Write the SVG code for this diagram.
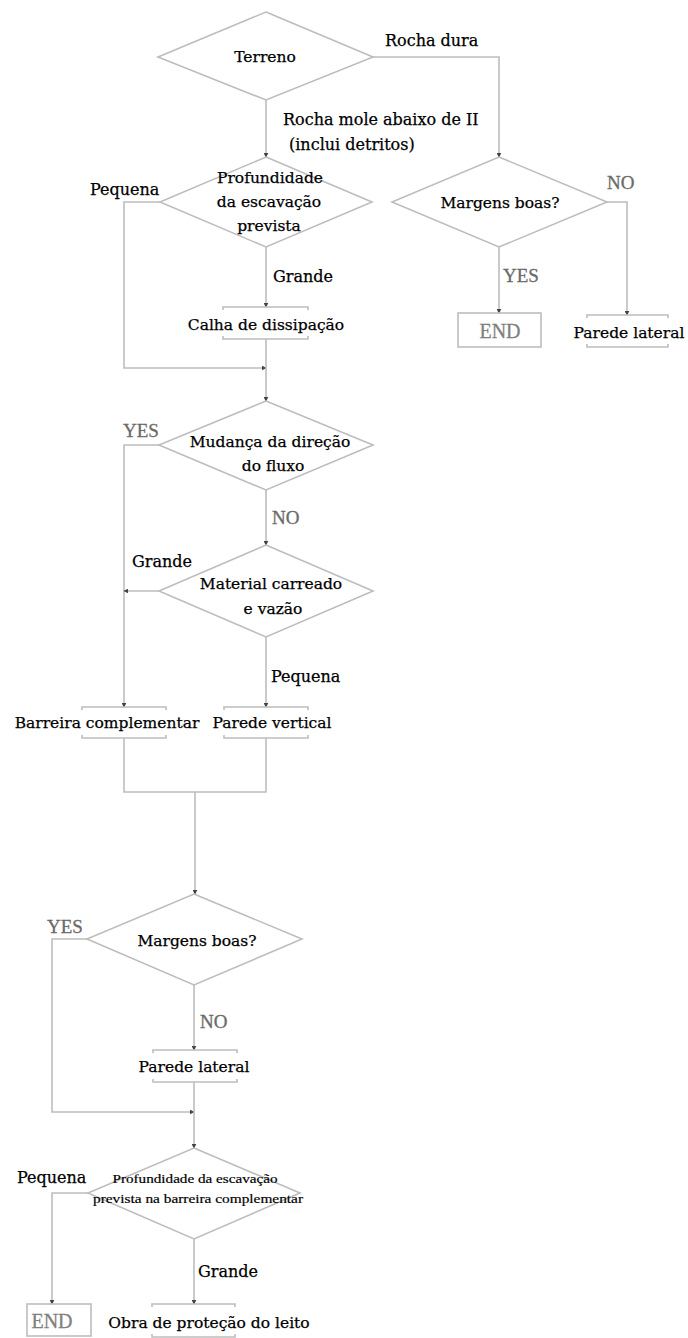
<svg xmlns="http://www.w3.org/2000/svg" width="688" height="1338" viewBox="0 0 688 1338">
<style>
.shape{fill:none;stroke:#bdbdbd;stroke-width:1.6}
.box{fill:none;stroke:#bdbdbd;stroke-width:1.6}
.conn{fill:none;stroke:#bdbdbd;stroke-width:1.6}
.t{font-family:"DejaVu Serif",serif;font-size:15.5px;fill:#000;stroke:#000;stroke-width:0.25}
.lbl{font-family:"DejaVu Serif",serif;font-size:16px;fill:#000;stroke:#000;stroke-width:0.25}
.yn{font-family:"Liberation Serif",serif;font-size:19px;fill:#6a6a6a;stroke:#6a6a6a;stroke-width:0.3}
.end{font-family:"Liberation Serif",serif;font-size:20px;fill:#808080;stroke:#808080;stroke-width:0.3}
.sm{font-family:"Liberation Serif",serif;font-size:13px;fill:#000;stroke:#000;stroke-width:0.2}
</style>
<defs>
<marker id="arr" viewBox="0 0 8 8" refX="7" refY="4" markerWidth="5" markerHeight="5" orient="auto" markerUnits="userSpaceOnUse">
<path d="M0,0 L8,4 L0,8 Z" fill="#444"/>
</marker>
</defs>
<rect width="688" height="1338" fill="#ffffff"/>

<g id="connectors">
<path class="conn" d="M266,100 V157" marker-end="url(#arr)"/>
<path class="conn" d="M373,57 H499 V157" marker-end="url(#arr)"/>
<path class="conn" d="M160,202 H124 V368 H266" marker-end="url(#arr)"/>
<path class="conn" d="M266,247 V307" marker-end="url(#arr)"/>
<path class="conn" d="M266,339 V401" marker-end="url(#arr)"/>
<path class="conn" d="M499,247 V313" marker-end="url(#arr)"/>
<path class="conn" d="M607,202 H627 V315" marker-end="url(#arr)"/>
<path class="conn" d="M159,445 H124 V707" marker-end="url(#arr)"/>
<path class="conn" d="M266,490 V545" marker-end="url(#arr)"/>
<path class="conn" d="M159,591 H124" marker-end="url(#arr)"/>
<path class="conn" d="M266,637 V707" marker-end="url(#arr)"/>
<path class="conn" d="M124,738 V792 H266 V738"/>
<path class="conn" d="M195,792 V894" marker-end="url(#arr)"/>
<path class="conn" d="M87,939 H52 V1112 H194" marker-end="url(#arr)"/>
<path class="conn" d="M194,985 V1050" marker-end="url(#arr)"/>
<path class="conn" d="M194,1082 V1148" marker-end="url(#arr)"/>
<path class="conn" d="M88,1193 H52 V1304" marker-end="url(#arr)"/>
<path class="conn" d="M194,1239 V1304" marker-end="url(#arr)"/>
<text class="lbl" x="385" y="46">Rocha dura</text>
<text class="lbl" x="283" y="125">Rocha mole abaixo de II</text>
<text class="lbl" x="289" y="150">(inclui detritos)</text>
<text class="lbl" x="90" y="195">Pequena</text>
<text class="lbl" x="273" y="282">Grande</text>
<text class="yn" x="607" y="189">NO</text>
<text class="yn" x="503" y="282">YES</text>
<text class="yn" x="123" y="437">YES</text>
<text class="yn" x="272" y="524">NO</text>
<text class="lbl" x="132" y="567">Grande</text>
<text class="lbl" x="271" y="682">Pequena</text>
<text class="yn" x="47" y="933">YES</text>
<text class="yn" x="200" y="1028">NO</text>
<text class="lbl" x="17" y="1183">Pequena</text>
<text class="lbl" x="198" y="1277">Grande</text>
</g>

<g id="terreno">
<polygon class="shape" points="266,12 373,57 266,100 158,57"/>
<text class="t" x="265" y="62" text-anchor="middle">Terreno</text>
</g>

<g id="profundidade">
<polygon class="shape" points="266,157 372,202 266,247 160,202"/>
<text class="t" x="270" y="183" text-anchor="middle">Profundidade</text>
<text class="t" x="269" y="207" text-anchor="middle">da escavação</text>
<text class="t" x="269" y="231" text-anchor="middle">prevista</text>
</g>

<g id="margens1">
<polygon class="shape" points="499,157 607,202 499,247 392,202"/>
<text class="t" x="500" y="208" text-anchor="middle">Margens boas?</text>
</g>

<g id="calha">
<path class="box" d="M223,310 V307 H308 V310 M223,336 V339 H308 V336"/>
<text class="t" x="266" y="330" text-anchor="middle">Calha de dissipação</text>
</g>

<g id="end1">
<rect class="box" x="458" y="313" width="83" height="34"/>
<text class="end" x="500" y="338" text-anchor="middle">END</text>
</g>

<g id="parede-lateral1">
<path class="box" d="M587,318 V315 H668 V318 M587,344 V347 H668 V344"/>
<text class="t" x="629" y="338" text-anchor="middle">Parede lateral</text>
</g>

<g id="mudanca">
<polygon class="shape" points="266,401 373,445 266,490 159,445"/>
<text class="t" x="270" y="447" text-anchor="middle">Mudança da direção</text>
<text class="t" x="273" y="471" text-anchor="middle">do fluxo</text>
</g>

<g id="material">
<polygon class="shape" points="266,545 373,591 266,637 159,591"/>
<text class="t" x="271" y="589" text-anchor="middle">Material carreado</text>
<text class="t" x="273" y="614" text-anchor="middle">e vazão</text>
</g>

<g id="barreira">
<path class="box" d="M82,710 V707 H166 V710 M82,735 V738 H166 V735"/>
<text class="t" x="107" y="728" text-anchor="middle">Barreira complementar</text>
</g>

<g id="parede-vertical">
<path class="box" d="M224,710 V707 H308 V710 M224,735 V738 H308 V735"/>
<text class="t" x="272" y="728" text-anchor="middle">Parede vertical</text>
</g>

<g id="margens2">
<polygon class="shape" points="194,894 302,939 194,985 87,939"/>
<text class="t" x="197" y="946" text-anchor="middle">Margens boas?</text>
</g>

<g id="parede-lateral2">
<path class="box" d="M153,1053 V1050 H237 V1053 M153,1079 V1082 H237 V1079"/>
<text class="t" x="194" y="1072" text-anchor="middle">Parede lateral</text>
</g>

<g id="profundidade2">
<polygon class="shape" points="194,1148 300,1193 194,1239 88,1193"/>
<text class="sm" x="195" y="1183" text-anchor="middle" textLength="165" lengthAdjust="spacingAndGlyphs">Profundidade da escavação</text>
<text class="sm" x="198" y="1203" text-anchor="middle" textLength="210" lengthAdjust="spacingAndGlyphs">prevista na barreira complementar</text>
</g>

<g id="end2">
<rect class="box" x="27" y="1304" width="64" height="32"/>
<text class="end" x="52" y="1328" text-anchor="middle">END</text>
</g>

<g id="obra">
<path class="box" d="M152,1307 V1304 H235 V1307 M152,1334 V1337 H235 V1334"/>
<text class="t" x="209" y="1328" text-anchor="middle">Obra de proteção do leito</text>
</g>
</svg>
